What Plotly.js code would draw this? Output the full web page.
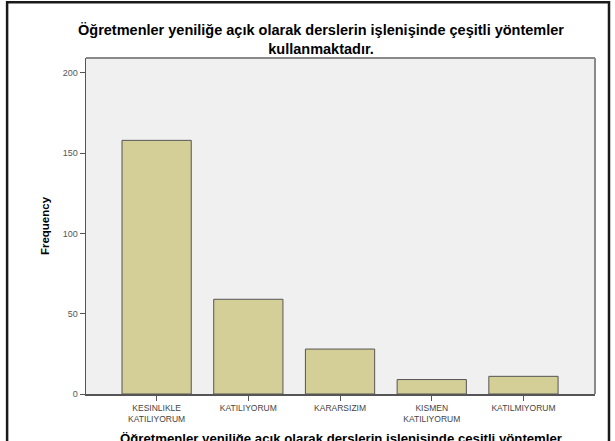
<!DOCTYPE html>
<html>
<head>
<meta charset="utf-8">
<script src="https://cdn.plot.ly/plotly-3.0.1.min.js"></script>
<style>html,body{margin:0;padding:0;background:#fff;}#chart{width:615px;height:441px;}</style>
</head>
<body>
<div id="chart"></div>
<script>
const categories = ['KESINLIKLE<br>KATILIYORUM', 'KATILIYORUM', 'KARARSIZIM', 'KISMEN<br>KATILIYORUM', 'KATILMIYORUM'];
const frequencies = [158, 59, 28, 9, 11];
const yTickValues = [0, 50, 100, 150, 200];
const chartTitle = 'Öğretmenler yeniliğe açık olarak derslerin işlenişinde çeşitli yöntemler<br>kullanmaktadır.';
const xTitle = 'Öğretmenler yeniliğe açık olarak derslerin işlenişinde çeşitli yöntemler<br>kullanmaktadır.';

const trace = {
  type: 'bar',
  x: categories,
  y: frequencies,
  width: 0.755,
  marker: {color: '#d3cf97', line: {color: '#555555', width: 1}},
  hoverinfo: 'x+y'
};

const layout = {
  width: 615, height: 441,
  margin: {l: 86, r: 20, t: 58, b: 47, pad: 0},
  paper_bgcolor: '#ffffff',
  plot_bgcolor: '#f0f0f0',
  font: {family: 'Liberation Sans, Arial, sans-serif', color: '#333'},
  showlegend: false,
  title: {
    text: '<b>' + chartTitle + '</b>',
    font: {size: 14.5, color: '#000', family: 'Liberation Sans, Arial, sans-serif'},
    x: 0.522, xanchor: 'center', xref: 'container',
    y: 0.92, yanchor: 'top', yref: 'container'
  },
  xaxis: {
    type: 'category',
    range: [-0.77, 4.78],
    showgrid: false, zeroline: false,
    showline: true, linecolor: '#555', linewidth: 2, mirror: false,
    ticks: 'outside', ticklen: 5, tickcolor: '#555', tickwidth: 1,
    tickfont: {size: 8.5, color: '#444'},
    tickangle: 0,
    automargin: false
  },
  yaxis: {
    range: [0, 209.3],
    tickvals: yTickValues,
    showgrid: false, zeroline: false,
    showline: true, linecolor: '#555', linewidth: 1.5,
    ticks: 'outside', ticklen: 5, tickcolor: '#555', tickwidth: 1,
    tickfont: {size: 9, color: '#555'},
    title: {text: '<b>Frequency</b>', font: {size: 11.5, color: '#000'}, standoff: 10},
    automargin: false
  },
  annotations: [
    {text: '<b>' + xTitle + '</b>', xref: 'paper', yref: 'paper', x: 0.5, y: -0.103,
     xanchor: 'center', yanchor: 'top', showarrow: false,
     font: {size: 13.2, color: '#000', family: 'Liberation Sans, Arial, sans-serif'}}
  ],
  shapes: [
    {type: 'line', xref: 'paper', yref: 'paper', x0: 1, x1: 1, y0: 0, y1: 1, line: {color: '#8a8a8a', width: 2}},
    {type: 'line', xref: 'paper', yref: 'paper', x0: 0, x1: 1, y0: 1, y1: 1, line: {color: '#8a8a8a', width: 2}},
    {type: 'rect', xref: 'paper', yref: 'paper', x0: -0.155, x1: 1.0275, y0: -0.2, y1: 1.166, line: {color: '#1a1a1a', width: 2.5}, fillcolor: 'rgba(0,0,0,0)'}
  ]
};

Plotly.newPlot('chart', [trace], layout, {displayModeBar: false, staticPlot: true});
</script>
</body>
</html>
